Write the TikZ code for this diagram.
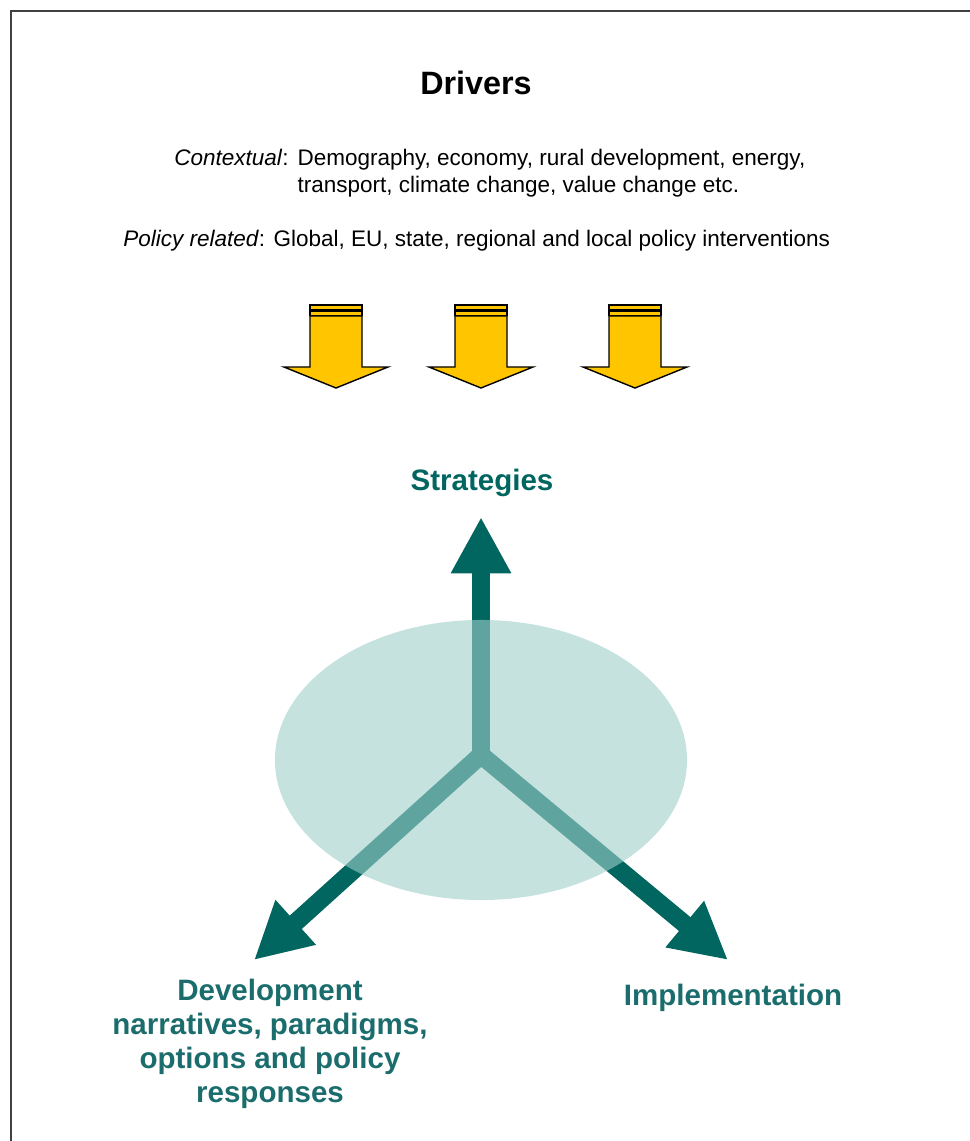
\documentclass[tikz,border=0pt]{standalone}
\usepackage{fontspec}
\setmainfont{Liberation Sans}
\usepackage{xcolor}
\usetikzlibrary{arrows.meta,positioning,calc,shapes.geometric}
\definecolor{tealdark}{HTML}{00665F}
\definecolor{teallabel}{HTML}{1B6C6C}
\definecolor{hubfill}{RGB}{159,206,201}
\definecolor{drvyellow}{HTML}{FFC600}

\begin{document}
\begin{tikzpicture}[x=0.025cm,y=-0.025cm,
  title/.style={font=\fontsize{23}{27}\selectfont\bfseries},
  body/.style={font=\fontsize{16}{19.2}\selectfont,inner sep=0pt,anchor=base west},
  lbl/.style={font=\fontsize{21}{24.2}\selectfont\bfseries,text=teallabel,align=center},
  tealarrow/.style={-{Triangle[length=40pt,width=40pt]},line width=12.8pt,draw=tealdark},
  driver/.style={draw=black,line width=1pt,fill=drvyellow,line join=miter},
  hub/.style={ellipse,fill=hubfill,fill opacity=0.6,inner sep=0pt,minimum width=10.3cm,minimum height=7cm}
]
\useasboundingbox (0,0) rectangle (970,1141);
\draw[line width=1.5pt,black!75] (11,1141) -- (11,11) -- (970,11);

% drivers text
\node[title] (drivers) at (476,83) {Drivers};
\node[body] (context) at (174,166) {\textit{Contextual}:\hspace{0.4em}\begin{tabular}[t]{@{}l@{}}Demography, economy, rural development, energy,\\transport, climate change, value change etc.\end{tabular}};
\node[body] (policy) at (123,247) {\textit{Policy related}: Global, EU, state, regional and local policy interventions};

% striped block arrows
\foreach \cx in {336,481,635}{
  \draw[driver] (\cx-26,305) rectangle (\cx+26,310);
  \draw[driver] (\cx-26,311) rectangle (\cx+26,315.5);
  \draw[driver] (\cx-26,316) -- (\cx+26,316) -- (\cx+26,367) -- (\cx+52,367)
    -- (\cx,388) -- (\cx-52,367) -- (\cx-26,367) -- cycle;
}

% three-way arrows
\coordinate (ctr) at (481,755);
\coordinate (tipS) at (481,517);
\coordinate (tipD) at (254,960);
\coordinate (tipI) at (728,960);
\draw[tealarrow] (ctr) -- (tipS);
\draw[tealarrow] (ctr) -- (tipD);
\draw[tealarrow] (ctr) -- (tipI);
\node[hub] (hub) at (481,760) {};

% labels
\node[lbl,text=tealdark] (strat) at (482,483) {Strategies};
\node[lbl] (devel) at (270,1044) {Development\\narratives, paradigms,\\options and policy\\responses};
\node[lbl] (implem) at (733,998) {Implementation};
\end{tikzpicture}
\end{document}
